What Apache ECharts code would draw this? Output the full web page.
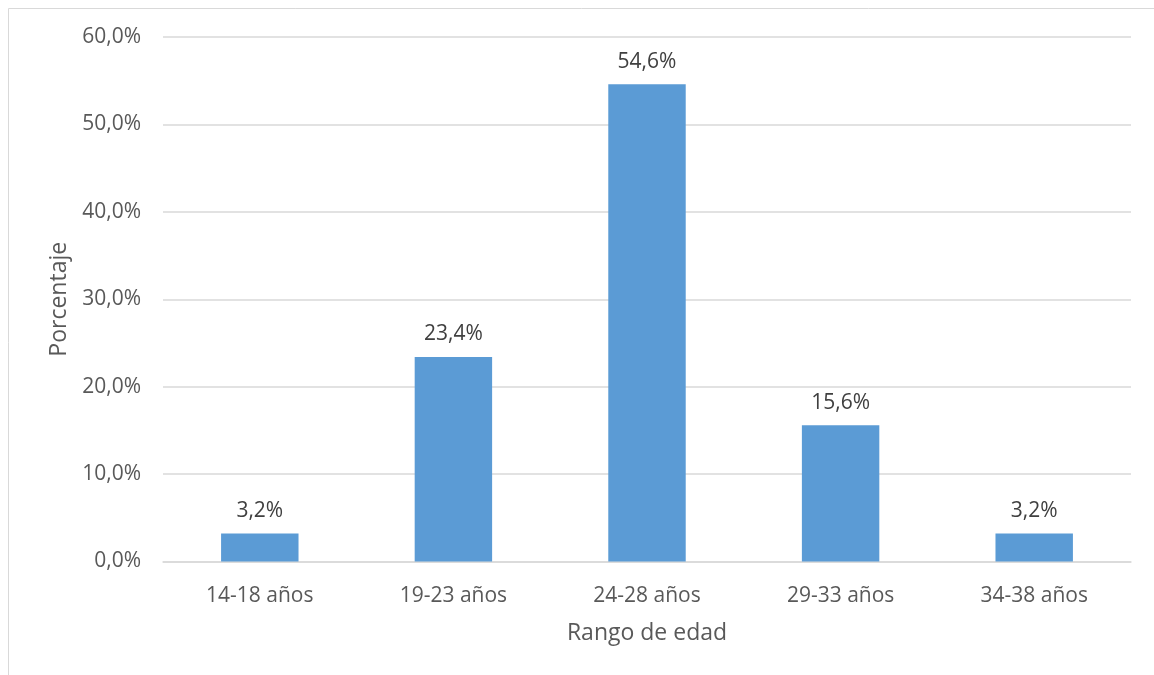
<!DOCTYPE html>
<html>
<head>
<meta charset="utf-8">
<script src="https://cdn.jsdelivr.net/npm/echarts@6/dist/echarts.min.js"></script>
<style>
  html, body { margin: 0; padding: 0; background: #fff; }
  #chart { width: 1154px; height: 675px; }
</style>
</head>
<body>
<div id="chart"></div>
<script>
// Age ranges and share of respondents in each (percent)
const categories = ['14-18 años', '19-23 años', '24-28 años', '29-33 años', '34-38 años'];
const percentages = [3.2, 23.4, 54.6, 15.6, 3.2];
const yMin = 0;
const yMax = 60;
const yStep = 10;

const fmt = v => v.toFixed(1).replace('.', ',') + '%';
const FONT = 'Open Sans';
const TEXT = '#595959';

const chart = echarts.init(document.getElementById('chart'));
chart.setOption({
  animation: false,
  textStyle: { fontFamily: FONT },
  graphic: [{
    type: 'rect',
    shape: { x: 8.5, y: 8.5, width: 1160, height: 700 },
    style: { fill: 'none', stroke: '#d9d9d9', lineWidth: 1 },
    silent: true
  }],
  grid: { left: 163, right: 23, top: 37, bottom: 113.5, containLabel: false },
  xAxis: {
    type: 'category',
    data: categories,
    name: 'Rango de edad',
    nameLocation: 'middle',
    nameGap: 60,
    nameTextStyle: { fontFamily: FONT, fontSize: 23, color: TEXT },
    axisLine: { lineStyle: { color: '#d9d9d9', width: 1.5 } },
    axisTick: { show: false },
    axisLabel: { fontFamily: FONT, fontSize: 21, color: TEXT, margin: 24 }
  },
  yAxis: {
    type: 'value',
    min: yMin, max: yMax, interval: yStep,
    name: 'Porcentaje',
    nameLocation: 'middle',
    nameGap: 88,
    nameTextStyle: { fontFamily: FONT, fontSize: 23, color: TEXT },
    axisLine: { show: false },
    axisTick: { show: false },
    splitLine: { lineStyle: { color: '#d9d9d9', width: 1.5 } },
    axisLabel: { fontFamily: FONT, fontSize: 21, color: TEXT, margin: 22, formatter: fmt }
  },
  series: [{
    type: 'bar',
    data: percentages,
    barWidth: '40%',
    itemStyle: { color: '#5b9bd5' },
    label: {
      show: true,
      position: 'top',
      distance: 12,
      fontFamily: FONT,
      fontSize: 21,
      color: '#404040',
      formatter: p => fmt(p.value)
    }
  }]
});
</script>
</body>
</html>
